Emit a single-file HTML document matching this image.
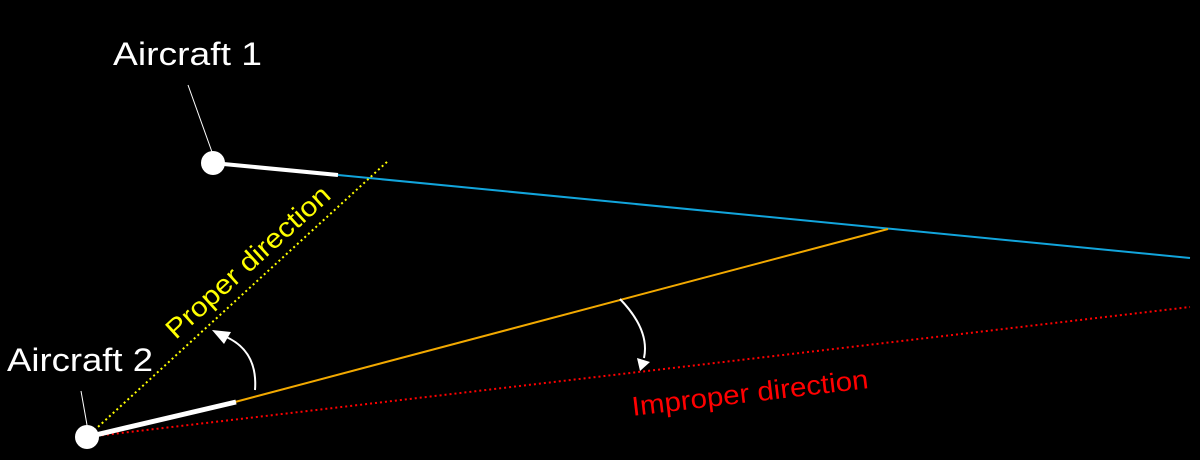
<!DOCTYPE html>
<html><head><style>html,body{margin:0;padding:0;background:#000;}svg{display:block}</style></head>
<body>
<svg width="1200" height="460" viewBox="0 0 1200 460" xmlns="http://www.w3.org/2000/svg" font-family="Liberation Sans, sans-serif">
<rect width="1200" height="460" fill="#000"/>
<line x1="338" y1="175" x2="1190" y2="258" stroke="#12a5dc" stroke-width="2"/>
<line x1="235" y1="402" x2="888" y2="229" stroke="#f2a900" stroke-width="2"/>
<line x1="87" y1="437" x2="1190" y2="307" stroke="#ff0000" stroke-width="2" stroke-dasharray="2,3"/>
<line x1="87" y1="437" x2="388" y2="161" stroke="#ffff00" stroke-width="2" stroke-dasharray="2,3"/>
<line x1="213" y1="163" x2="338" y2="175" stroke="#fff" stroke-width="4"/>
<line x1="87" y1="437" x2="236" y2="402" stroke="#fff" stroke-width="5"/>
<circle cx="213" cy="163" r="12" fill="#fff"/>
<circle cx="87" cy="437" r="12" fill="#fff"/>
<line x1="188" y1="85" x2="212" y2="152" stroke="#fff" stroke-width="1"/>
<line x1="81" y1="391" x2="87" y2="425" stroke="#fff" stroke-width="1"/>
<path d="M255,390 Q258,350 224,336" fill="none" stroke="#fff" stroke-width="2"/>
<polygon points="212,330 231,332 224,344" fill="#fff"/>
<path d="M620,299 Q650,330 644,358" fill="none" stroke="#fff" stroke-width="2"/>
<polygon points="640,371 637,358 650,362" fill="#fff"/>
<text x="113" y="65" font-size="32" fill="#fff" textLength="149" lengthAdjust="spacingAndGlyphs">Aircraft 1</text>
<text x="7" y="371" font-size="32" fill="#fff" textLength="146" lengthAdjust="spacingAndGlyphs">Aircraft 2</text>
<text transform="translate(248,262) rotate(-42.4)" text-anchor="middle" y="9" font-size="27" fill="#ffff00" textLength="212" lengthAdjust="spacingAndGlyphs">Proper direction</text>
<text transform="translate(750,393) rotate(-6.7)" text-anchor="middle" y="9" font-size="27" fill="#ff0000" textLength="238" lengthAdjust="spacingAndGlyphs">Improper direction</text>
</svg>
</body></html>
